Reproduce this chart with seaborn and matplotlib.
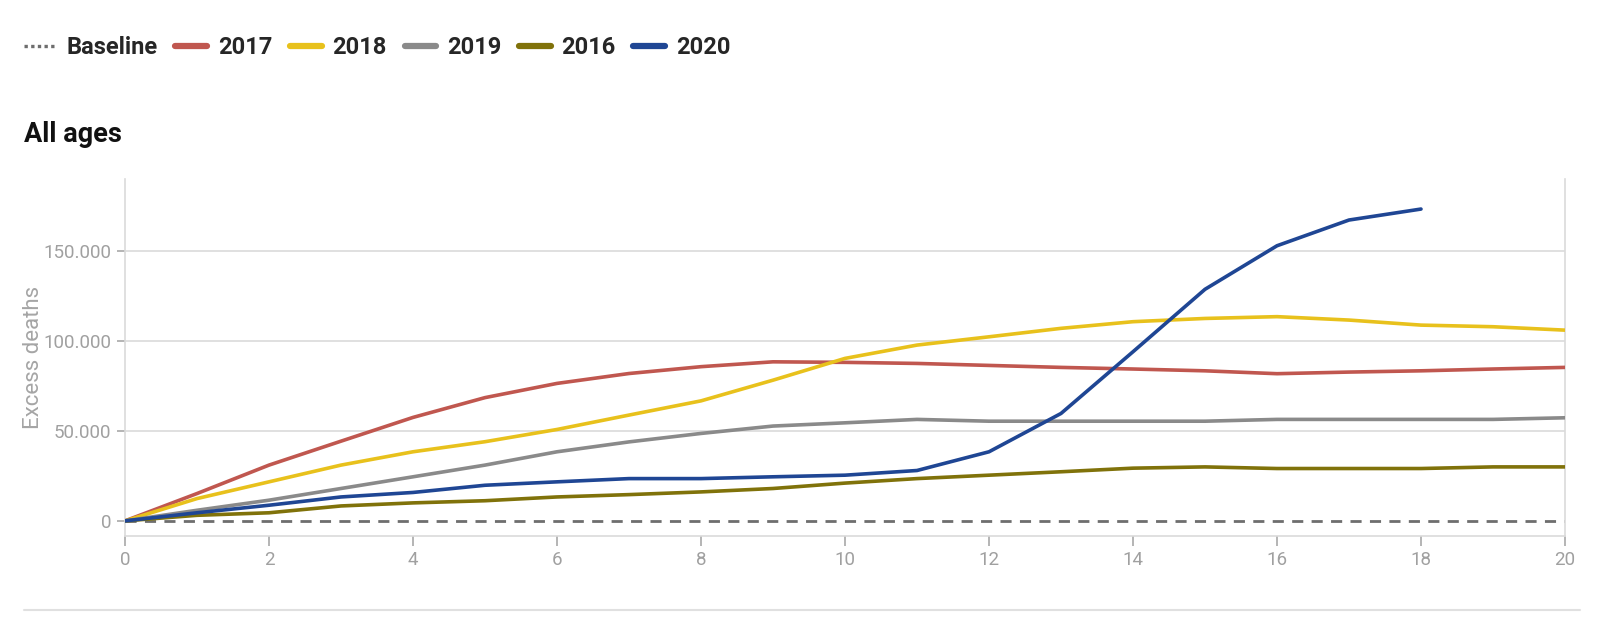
import numpy as np
import pandas as pd
import matplotlib
matplotlib.use("Agg")
import matplotlib.pyplot as plt
from matplotlib.lines import Line2D
from matplotlib.ticker import FuncFormatter
import seaborn as sns

# ---- data ----
weeks = list(range(0, 21))
y2017 = [0, 15200, 31000, 44300, 57500, 68500, 76400, 81900, 85700, 88400, 88100,
         87500, 86400, 85300, 84400, 83400, 81800, 82700, 83400, 84400, 85300]
y2018 = [0, 12400, 21700, 31000, 38400, 44000, 50800, 58800, 66700, 78200, 90300,
         97700, 102300, 107000, 110700, 112500, 113500, 111600, 108800, 107900, 106000]
y2019 = [0, 5900, 11500, 18000, 24500, 31000, 38400, 43900, 48600, 52700, 54500,
         56400, 55400, 55400, 55400, 55400, 56400, 56400, 56400, 56400, 57300]
y2016 = [0, 3100, 4500, 8300, 10000, 11200, 13300, 14600, 16100, 18000, 21000,
         23500, 25400, 27300, 29300, 30000, 29100, 29100, 29100, 30000, 30000]
weeks_2020 = list(range(0, 19))
y2020 = [0, 4500, 8700, 13300, 15800, 19800, 21700, 23500, 23500, 24500, 25400,
         28000, 38400, 59700, 94000, 128700, 152900, 167200, 173300]
baseline = [0] * len(weeks)

series_order = ["2017", "2018", "2019", "2016", "2020"]
colors = {"2017": "#C0574F", "2018": "#E8C11C", "2019": "#8A8A8A",
          "2016": "#80720A", "2020": "#1F4694"}
yticks = [0, 50000, 100000, 150000]
xticks = [0, 2, 4, 6, 8, 10, 12, 14, 16, 18, 20]

frames = []
for name, xs, ys in [("2017", weeks, y2017), ("2018", weeks, y2018),
                     ("2019", weeks, y2019), ("2016", weeks, y2016),
                     ("2020", weeks_2020, y2020)]:
    frames.append(pd.DataFrame({"week": xs, "deaths": ys, "year": name}))
df = pd.concat(frames, ignore_index=True)
df_base = pd.DataFrame({"week": weeks, "deaths": baseline})

sns.set_theme(style="white")
plt.rcParams["font.family"] = ["Roboto", "DejaVu Sans"]

fig = plt.figure(figsize=(16, 6.44), dpi=100)
ax = fig.add_axes([125 / 1600, 1 - 536 / 644, 1440 / 1600, (536 - 179) / 644])

grid_c = "#DADADA"
for v in yticks[1:]:
    ax.axhline(v, color=grid_c, lw=1.2, zorder=0)

sns.lineplot(data=df_base, x="week", y="deaths", ax=ax, color="#6E6E6E",
             lw=2, linestyle=(0, (4, 3)), zorder=1)
sns.lineplot(data=df, x="week", y="deaths", hue="year", hue_order=series_order,
             palette=colors, ax=ax, lw=2.6, legend=False, zorder=3)

ax.set_xlim(0, 20)
ax.set_ylim(-8400, 190000)
ax.set_xticks(xticks)
ax.set_yticks(yticks)
ax.yaxis.set_major_formatter(FuncFormatter(lambda v, p: f"{int(v):,}".replace(",", ".")))
ax.tick_params(axis="both", colors="#A8A8A8", labelsize=13.5, length=7, width=1.2,
               labelcolor="#A0A0A0")
ax.tick_params(axis="y", length=6, pad=4)
ax.tick_params(axis="x", pad=4)
ax.tick_params(bottom=True, left=True)
ax.set_xlabel("")
ax.set_ylabel("Excess deaths", color="#A5A5A5", fontsize=16)
ax.yaxis.set_label_coords(-0.0565, 0.5)
for side in ["left", "right", "bottom"]:
    ax.spines[side].set_color(grid_c)
    ax.spines[side].set_linewidth(1.2)
ax.spines["top"].set_visible(False)

# legend
handles = [Line2D([], [], color="#6E6E6E", lw=2.4, linestyle=(0, (1.0, 1.0)))]
labels = ["Baseline"]
for s in series_order:
    handles.append(Line2D([], [], color=colors[s], lw=4.5))
    labels.append(s)
fig.legend(handles, labels, loc="center left", bbox_to_anchor=(24 / 1600, 1 - 48 / 644),
           ncol=6, frameon=False, borderpad=0, borderaxespad=0,
           handlelength=1.35, handletextpad=0.45,
           columnspacing=0.75, prop={"weight": "bold", "size": 17})

fig.text(24 / 1600, 1 - 135 / 644, "All ages", fontsize=19.5, fontweight="bold",
         color="#111111", va="center", ha="left")

fig.add_artist(Line2D([24 / 1600, 1580 / 1600], [1 - 610 / 644, 1 - 610 / 644],
                      color="#E0E0E0", lw=1.5, transform=fig.transFigure))

fig.savefig("out.png", dpi=100)
